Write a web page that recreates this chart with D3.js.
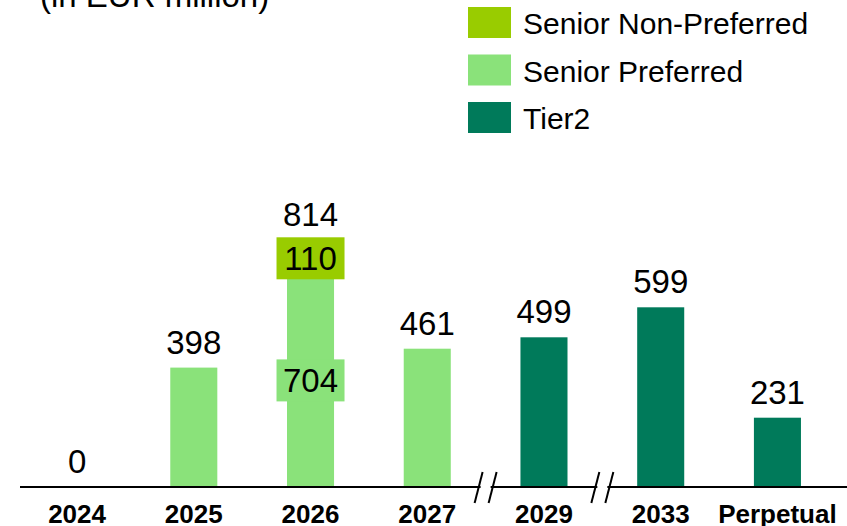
<!DOCTYPE html>
<html>
<head>
<meta charset="utf-8">
<script src="https://cdn.jsdelivr.net/npm/d3@7"></script>
<style>
  body { margin: 0; background: #fff; }
  svg { display: block; font-family: "Liberation Sans", Arial, sans-serif; }
</style>
</head>
<body>
<div id="chart"></div>
<script>
const categories = ["2024", "2025", "2026", "2027", "2029", "2033", "Perpetual"]
const seniorPreferred = [0, 398, 704, 461, 0, 0, 0]
const seniorNonPreferred = [0, 0, 110, 0, 0, 0, 0]
const tier2 = [0, 0, 0, 0, 499, 599, 231]
const totals = [0, 398, 814, 461, 499, 599, 231]
const seriesNames = ["Senior Non-Preferred", "Senior Preferred", "Tier2"]
const seriesColors = ["#99cc00", "#8ae27a", "#007a5a"]
const breaksAfter = ["2027", "2029"]

const width = 847
const height = 526
const baseY = 487

const svg = d3.select("#chart").append("svg")
  .attr("width", width)
  .attr("height", height)

// scales
const xScale = d3.scaleBand()
  .domain(categories)
  .range([18.7, 835.8])
  .paddingInner(0.597)
  .paddingOuter(0.2985)

const yScale = d3.scaleLinear()
  .domain([0, 900])
  .range([baseY, baseY - 270])

// stacked data
const rows = categories.map((c, i) => ({
  cat: c, sp: seniorPreferred[i], snp: seniorNonPreferred[i], t2: tier2[i], total: totals[i]
}))
const stack = d3.stack().keys(["sp", "snp", "t2"])(rows)
const colorByKey = { sp: seriesColors[1], snp: seriesColors[0], t2: seriesColors[2] }

svg.append("g").selectAll("g")
  .data(stack)
  .join("g")
    .attr("fill", d => colorByKey[d.key])
  .selectAll("rect")
  .data(d => d.filter(s => s[1] - s[0] > 0))
  .join("rect")
    .attr("x", d => xScale(d.data.cat))
    .attr("width", xScale.bandwidth())
    .attr("y", d => yScale(d[1]))
    .attr("height", d => yScale(d[0]) - yScale(d[1]))

// segment labels with background boxes (stacked bar only)
const segLabels = []
stack.forEach(layer => {
  layer.forEach(s => {
    const v = s[1] - s[0]
    if (v > 0 && s.data.total !== v) segLabels.push({ key: layer.key, cat: s.data.cat, v, mid: (s[0] + s[1]) / 2 })
  })
})
const seg = svg.append("g").selectAll("g").data(segLabels).join("g")
  .attr("transform", d => `translate(${xScale(d.cat) + xScale.bandwidth() / 2},${yScale(d.mid) - 1})`)
seg.append("rect")
  .attr("x", -34).attr("y", -21).attr("width", 68).attr("height", 42)
  .attr("fill", d => colorByKey[d.key])
seg.append("text")
  .attr("text-anchor", "middle")
  .attr("dy", "0.36em")
  .attr("font-size", 33)
  .attr("fill", "#000")
  .text(d => d.v)

// totals
const stackedCats = new Set(segLabels.map(d => d.cat))
svg.append("g").selectAll("text")
  .data(rows)
  .join("text")
    .attr("x", d => xScale(d.cat) + xScale.bandwidth() / 2)
    .attr("y", d => yScale(d.total) - (stackedCats.has(d.cat) ? 17 : 14))
    .attr("text-anchor", "middle")
    .attr("font-size", 33)
    .attr("fill", "#000")
    .text(d => d.total)

// axis line
svg.append("line")
  .attr("x1", 20).attr("x2", width)
  .attr("y1", baseY).attr("y2", baseY)
  .attr("stroke", "#000").attr("stroke-width", 2)

// category labels
svg.append("g").selectAll("text")
  .data(categories)
  .join("text")
    .attr("x", d => xScale(d) + xScale.bandwidth() / 2)
    .attr("y", 523)
    .attr("text-anchor", "middle")
    .attr("font-size", 26)
    .attr("font-weight", "bold")
    .text(d => d)

// axis break marks
const breaks = svg.append("g").selectAll("g")
  .data(breaksAfter)
  .join("g")
    .attr("transform", d => `translate(${xScale(d) + xScale.bandwidth() + xScale.step() * xScale.paddingInner() / 2},${baseY})`)
breaks.append("rect")
  .attr("x", -5).attr("y", -3).attr("width", 10).attr("height", 6).attr("fill", "#fff")
breaks.selectAll("line")
  .data([-7, 7])
  .join("line")
    .attr("x1", d => d - 4).attr("y1", 16)
    .attr("x2", d => d + 4).attr("y2", -15)
    .attr("stroke", "#000").attr("stroke-width", 2)

// legend
const legend = svg.append("g").selectAll("g")
  .data(seriesNames)
  .join("g")
    .attr("transform", (d, i) => `translate(468,${7 + i * 47.5})`)
legend.append("rect")
  .attr("width", 43).attr("height", 31)
  .attr("fill", (d, i) => seriesColors[i])
legend.append("text")
  .attr("x", 55).attr("y", 27)
  .attr("font-size", 30)
  .attr("fill", "#000")
  .text(d => d)

// title (cropped at top)
svg.append("text")
  .attr("x", 40).attr("y", 7)
  .attr("font-size", 33)
  .attr("fill", "#000")
  .text("(in EUR million)")
</script>
</body>
</html>
